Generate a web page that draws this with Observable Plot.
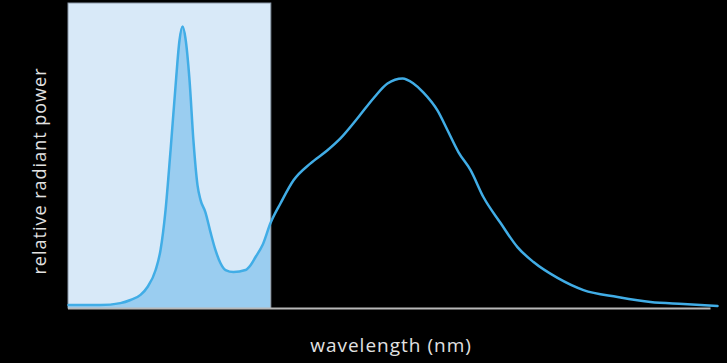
<!DOCTYPE html>
<html>
<head>
<meta charset="utf-8">
<script src="https://cdn.jsdelivr.net/npm/d3@7"></script>
<script src="https://cdn.jsdelivr.net/npm/@observablehq/plot@0.6"></script>
<style>
  html, body { margin: 0; padding: 0; background: #000; }
  #chart { width: 727px; height: 363px; overflow: hidden; }
</style>
</head>
<body>
<div id="chart"></div>
<script>
const wavelength = [380, 399.7, 412.0, 418.2, 424.4, 428.7, 433.7, 436.7, 439.8, 442.9, 446.0, 448.4, 450.3, 452.1, 454.6, 457.0, 459.5, 461.4, 464.4, 467.5, 470.6, 473.7, 476.8, 481.7, 489.1, 492.2, 495.3, 499.6, 504.5, 510.7, 518.7, 529.2, 539.6, 547.6, 558.1, 568.0, 576.6, 585.9, 592.6, 598.8, 607.4, 613.6, 620.4, 627.8, 635.8, 646.3, 656.7, 666.6, 681.4, 697.4, 718.4, 738.7, 759.0, 780];
const power = [0.012, 0.012, 0.019, 0.030, 0.048, 0.076, 0.136, 0.206, 0.347, 0.559, 0.788, 0.947, 0.996, 0.954, 0.806, 0.593, 0.436, 0.383, 0.340, 0.270, 0.206, 0.160, 0.136, 0.129, 0.136, 0.153, 0.182, 0.224, 0.302, 0.372, 0.453, 0.513, 0.559, 0.601, 0.672, 0.743, 0.795, 0.813, 0.795, 0.763, 0.700, 0.630, 0.552, 0.489, 0.393, 0.302, 0.217, 0.164, 0.108, 0.065, 0.041, 0.023, 0.016, 0.009];
const bandStart = 380;
const bandEnd = 505;
const xLabel = "wavelength (nm)";
const yLabel = "relative radiant power";

const data = wavelength.map((w, i) => ({w, p: power[i]}));
const yMax = 1.0777;
const band = [{x1: bandStart, x2: bandEnd, y1: 0, y2: yMax}];

const plot = Plot.plot({
  width: 727,
  height: 363,
  marginLeft: 68,
  marginRight: 10,
  marginTop: 3,
  marginBottom: 55,
  style: {background: "#000", color: "#ddd", fontFamily: "'Open Sans', sans-serif"},
  x: {domain: [380, 780], range: [68, 717], axis: null},
  y: {domain: [0, yMax], axis: null},
  marks: [
    Plot.rect(band, {x1: "x1", x2: "x2", y1: "y1", y2: "y2", fill: "#d8e9f8", stroke: "#8a98a8", strokeWidth: 1}),
    Plot.areaY(data.filter(d => d.w <= bandEnd), {x: "w", y: "p", fill: "#9acdf0", curve: "monotone-x"}),
    Plot.ruleY([0], {x1: 380, x2: 776, stroke: "#b8b8b8", strokeWidth: 2}),
    Plot.lineY(data, {x: "w", y: "p", stroke: "#41ade6", strokeWidth: 2.5, curve: "monotone-x"})
  ]
});

const wrap = document.getElementById("chart");
wrap.appendChild(plot);

const svg = d3.select(plot);
svg.append("text")
  .attr("x", 391).attr("y", 352)
  .attr("text-anchor", "middle")
  .attr("fill", "#e2e2e2")
  .attr("font-size", 19)
  .attr("letter-spacing", 1)
  .attr("font-family", "'Open Sans', sans-serif")
  .text(xLabel);
svg.append("text")
  .attr("transform", "translate(46,171) rotate(-90)")
  .attr("text-anchor", "middle")
  .attr("fill", "#e2e2e2")
  .attr("font-size", 18)
  .attr("letter-spacing", 1)
  .attr("font-family", "'Open Sans', sans-serif")
  .text(yLabel);
</script>
</body>
</html>
